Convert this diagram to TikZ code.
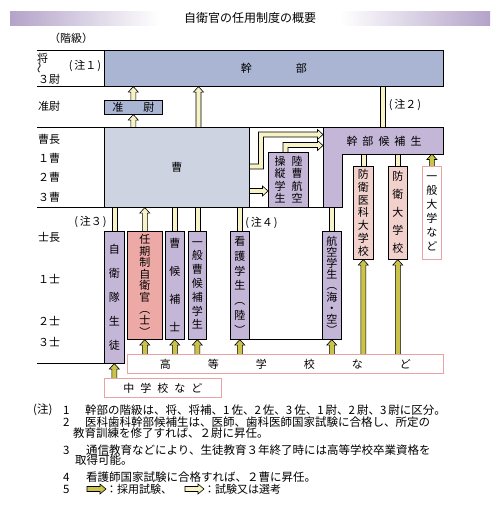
\documentclass[tikz,border=0pt]{standalone}
\usepackage{fontspec}
\setmainfont{Noto Sans CJK JP}
\usetikzlibrary{calc}
\definecolor{kblue}{HTML}{A9B5D2}
\definecolor{sgray}{HTML}{CDD3E1}
\definecolor{lav}{HTML}{C3B6D6}
\definecolor{salmon}{HTML}{EDA9A5}
\definecolor{lpink}{HTML}{F2D1CD}
\definecolor{pinkb}{HTML}{E9A3A3}
\definecolor{cream}{HTML}{F7F3C6}
\definecolor{olive}{HTML}{CBC24A}
\definecolor{ttl}{HTML}{B3A3C9}
\newcommand\myfs[2]{\fontsize{#1}{#2}\selectfont}
\pgfdeclarelayer{bg}
\pgfsetlayers{bg,main}
\newcommand\uarr[3]{\draw[arr,fill=#1] let \p1=#2, \p2=#3 in (\x1-2.5pt,\y1) -- (\x1-2.5pt,\y2-5.5pt) -- (\x1-5pt,\y2-5.5pt) -- (\x1,\y2) -- (\x1+5pt,\y2-5.5pt) -- (\x1+2.5pt,\y2-5.5pt) -- (\x1+2.5pt,\y1);}
\newcommand\ushaft[3]{\fill[#1] let \p1=#2, \p2=#3 in (\x1-2.5pt,\y1) rectangle (\x1+2.5pt,\y2);
 \draw[arr] let \p1=#2, \p2=#3 in (\x1-2.5pt,\y1) -- (\x1-2.5pt,\y2) (\x1+2.5pt,\y1) -- (\x1+2.5pt,\y2);}
\newcommand\rarr[3]{\draw[arr,fill=#1] let \p1=#2, \p2=#3 in (\x1,\y1-2.5pt) -- (\x2-5.5pt,\y1-2.5pt) -- (\x2-5.5pt,\y1-5pt) -- (\x2,\y1) -- (\x2-5.5pt,\y1+5pt) -- (\x2-5.5pt,\y1+2.5pt) -- (\x1,\y1+2.5pt);}
\newcommand\rarrc[3]{\draw[arr,fill=#1] let \p1=#2, \p2=#3 in (\x1,\y1-2.5pt) -- (\x2-6pt,\y1-2.5pt) -- (\x2-6pt,\y1-5pt) -- (\x2,\y1) -- (\x2-6pt,\y1+5pt) -- (\x2-6pt,\y1+2.5pt) -- (\x1,\y1+2.5pt) -- cycle;}
\begin{document}
\begin{tikzpicture}[x=1pt,y=-1pt,
 bx/.style={draw=black,line width=0.6pt,inner sep=0pt,anchor=north west,align=center,font=\myfs{11}{13}},
 pb/.style={draw=pinkb,line width=0.8pt,inner sep=0pt,anchor=north west,fill=white,align=center,font=\myfs{11}{13}},
 lbl/.style={anchor=west,inner sep=0pt,font=\myfs{11}{13}},
 txt/.style={inner sep=0pt,font=\myfs{11}{13}},
 note/.style={anchor=west,inner sep=0pt,font=\myfs{11.5}{13}},
 arr/.style={draw=black,line width=0.6pt},
 rule/.style={draw=black,line width=0.7pt}]
\useasboundingbox (0,0) rectangle (500,506);

% title
\shade[left color=ttl,right color=white] (10,11) rectangle (160,25);
\shade[left color=white,right color=ttl] (340,11) rectangle (490,25);
\node[txt,font=\myfs{12}{14}] (title) at (250,18) {自衛官の任用制度の概要};
\node[txt] (kaikyu) at (71,38) {（階級）};

% rules
\draw[rule] (37,50) -- (443,50);
\draw[rule] (37,86) -- (104,86);
\draw[rule] (37,127) -- (443,127);
\draw[rule] (37,207) -- (342,207);
\draw[rule] (37,363) -- (104,363);
\draw[rule] (249,339) -- (322,339);

% left labels
\node[lbl] (l1) at (37,58.5) {将};
\node[txt] (l2) at (40.5,68) {\rotatebox{90}{〜}};
\node[lbl] (l3) at (38,79) {３尉};
\node[txt] (n1) at (85,66) {(\kern2pt注１\kern1pt)};
\node[lbl] (l4) at (38,106) {准尉};
\node[lbl] (l5) at (38,139.5) {曹長};
\node[lbl] (l6) at (38,158.5) {１曹};
\node[lbl] (l7) at (38,177.5) {２曹};
\node[lbl] (l8) at (38,197) {３曹};
\node[lbl] (l9) at (38,237) {士長};
\node[lbl] (l10) at (38,279) {１士};
\node[lbl] (l11) at (38,321.5) {２士};
\node[lbl] (l12) at (38,342) {３士};

% main boxes
\node[bx,fill=kblue,minimum width=339pt,minimum height=36pt] (kanbu) at (104,50) {幹\hspace{44pt}部};
\node[bx,fill=kblue,minimum width=58pt,minimum height=14pt] (jun) at (104,100) {准\hspace{20pt}尉};
\node[bx,fill=sgray,minimum width=145pt,minimum height=80pt] (sou) at (104,127) {曹};
\draw[fill=lav,line width=0.6pt] (323,127) -- (443,127) -- (443,154) -- (342,154) -- (342,207) -- (323,207) -- cycle;
\node[txt] (kbs) at (384,141) {幹\hspace{5pt}部\hspace{5pt}候\hspace{5pt}補\hspace{5pt}生};
\coordinate (kbst) at (383,127);
\coordinate (kbsb) at (384,154);
\coordinate (kbsv) at (332,207);

\node[bx,fill=lav,minimum width=40pt,minimum height=55pt] (rk) at (268,152) {};
\node[txt,align=center,font=\myfs{11}{12.5}] (rk1) at (280,179.5) {操\\縦\\学\\生};
\node[txt,align=center,font=\myfs{11}{12.5}] (rk2) at (297,179.5) {陸\\曹\\航\\空};

% shi boxes
\node[bx,fill=lav,minimum width=20pt,minimum height=132pt,font=\myfs{11}{24}] (jsd) at (104,231) {自\\衛\\隊\\生\\徒};
\node[bx,fill=salmon,minimum width=35pt,minimum height=108pt,font=\myfs{11}{11.6}] (nin) at (127,231) {任\\期\\制\\自\\衛\\官\\︵\\士\\︶};
\node[bx,fill=lav,minimum width=19pt,minimum height=108pt,font=\myfs{11}{28}] (skh) at (165,231) {曹\\候\\補\\士};
\node[bx,fill=lav,minimum width=18pt,minimum height=108pt,font=\myfs{11}{13.8}] (ipp) at (188,231) {一\\般\\曹\\候\\補\\学\\生};
\node[bx,fill=lav,minimum width=19pt,minimum height=108pt,font=\myfs{11}{14.8}] (kan) at (230,231) {看\\護\\学\\生\\︵\\陸\\︶};
\node[bx,fill=lav,minimum width=19pt,minimum height=108pt,font=\myfs{11}{11.2}] (kou) at (322,231) {航\\空\\学\\生\\︵\\海\\・\\空\\︶};

% upper right boxes
\node[bx,fill=lpink,minimum width=20pt,minimum height=93pt,font=\myfs{11}{12.8}] (bim) at (353,166) {防\\衛\\医\\科\\大\\学\\校};
\node[bx,fill=lpink,minimum width=19pt,minimum height=93pt,font=\myfs{11}{18}] (bdg) at (388,166) {防\\衛\\大\\学\\校};
\node[pb,minimum width=19pt,minimum height=93pt,font=\myfs{11}{14}] (ipd) at (422,166) {一\\般\\大\\学\\な\\ど};

% bottom boxes
\node[pb,minimum width=316pt,minimum height=19pt] (kkg) at (127,354) {高\hspace{37pt}等\hspace{37pt}学\hspace{37pt}校\hspace{37pt}な\hspace{37pt}ど};
\node[pb,minimum width=117pt,minimum height=19pt] (cgk) at (104,378) {中\hspace{6pt}学\hspace{6pt}校\hspace{6pt}な\hspace{6pt}ど};

% note labels
\node[txt] (n2) at (405,105) {(\kern2pt注２\kern1pt)};
\node[txt] (n3) at (90.5,222) {(\kern2pt注３\kern1pt)};
\node[txt] (n4) at (261.5,223) {(\kern2pt注４\kern1pt)};

% arrows
\begin{pgfonlayer}{bg}
\uarr{cream}{(jun.north)}{(kanbu.south)}
\uarr{cream}{(jun.south |- sou.north)}{(jun.south)}
\coordinate (s1) at (198.5,127);
\uarr{cream}{(s1)}{(kanbu.south)}
\ushaft{cream}{(kbst)}{(kanbu.south)}
% bent arrows
\draw[arr,fill=cream] (249,169) -- (263.5,169) -- (263.5,137) -- (317.5,137) -- (317.5,139.5) -- (323,134.5) -- (317.5,129.5) -- (317.5,132) -- (258.5,132) -- (258.5,164) -- (249,164);
\draw[arr,fill=cream] (283,152) -- (283,142.5) -- (317.5,142.5) -- (317.5,140.5) -- (323,145.5) -- (317.5,150.5) -- (317.5,147.5) -- (288,147.5) -- (288,152);
\coordinate (c3) at (249,191);
\rarr{cream}{(c3)}{(rk.west)}
\ushaft{cream}{(jsd.north)}{(sou.south)}
\uarr{cream}{(nin.north)}{(sou.south)}
\ushaft{cream}{(skh.north)}{(sou.south)}
\ushaft{cream}{(ipp.north)}{(sou.south)}
\ushaft{cream}{(kan.north)}{(sou.south)}
\ushaft{cream}{(kou.north)}{(kbsv)}
\ushaft{cream}{(bim.north)}{(kbsb)}
\ushaft{cream}{(bdg.north)}{(kbsb)}
\uarr{olive}{(ipd.north)}{(kbsb)}
\uarr{olive}{(jsd.south |- cgk.north)}{(jsd.south)}
\uarr{olive}{(nin.south |- kkg.north)}{(nin.south)}
\uarr{olive}{(skh.south |- kkg.north)}{(skh.south)}
\uarr{olive}{(ipp.south |- kkg.north)}{(ipp.south)}
\uarr{olive}{(kan.south |- kkg.north)}{(kan.south)}
\uarr{olive}{(kou.south |- kkg.north)}{(kou.south)}
\uarr{olive}{(bim.south |- kkg.north)}{(bim.south)}
\uarr{olive}{(bdg.south |- kkg.north)}{(bdg.south)}
\end{pgfonlayer}

% notes
\node[note] (t0) at (33,410) {(注)};
\node[note] (t1n) at (63,410) {1};
\node[note] (t1) at (85,410) {幹部の階級は、将、将補、1\kern2pt佐、2\kern2pt佐、3\kern2pt佐、1\kern2pt尉、2\kern2pt尉、3\kern2pt尉に区分。};
\node[note] (t2n) at (63,422.5) {2};
\node[note] (t2) at (85,422.5) {医科歯科幹部候補生は、医師、歯科医師国家試験に合格し、所定の};
\node[note] (t2b) at (73,433.5) {教育訓練を修了すれば、２尉に昇任。};
\node[note] (t3n) at (63,450) {3};
\node[note] (t3) at (86,450) {通信教育などにより、生徒教育３年終了時には高等学校卒業資格を};
\node[note] (t3b) at (75,460.5) {取得可能。};
\node[note] (t4n) at (63,477) {4};
\node[note] (t4) at (86,477) {看護師国家試験に合格すれば、２曹に昇任。};
\node[note] (t5n) at (63,489) {5};
\coordinate (la1) at (87,489);
\coordinate (la2) at (106,489);
\coordinate (lb1) at (185,489);
\coordinate (lb2) at (204,489);
\rarrc{olive}{(la1)}{(la2)}
\rarrc{cream}{(lb1)}{(lb2)}
\node[note,font=\myfs{11}{13}] (t5a) at (106,489) {：採用試験、};
\node[note,font=\myfs{11}{13}] (t5b) at (204,489) {：試験又は選考};
\end{tikzpicture}
\end{document}
